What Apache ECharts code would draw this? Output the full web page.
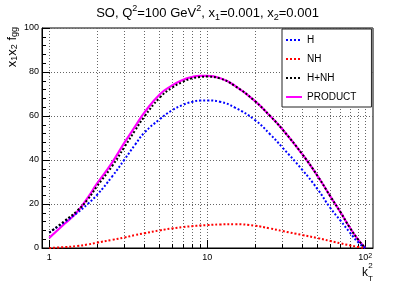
<!DOCTYPE html>
<html><head><meta charset="utf-8">
<script src="https://cdn.jsdelivr.net/npm/echarts@6/dist/echarts.min.js"></script>
<style>html,body{margin:0;padding:0;background:#fff}#c{width:415px;height:283px}</style>
</head><body><div id="c"></div>
<script>
// ---- data ----
const kT2 = [1, 1.25, 1.5, 1.75, 2, 2.5, 3, 3.5, 4, 5, 6, 7, 8, 9, 10, 12, 15, 20, 25, 30, 40, 50, 60, 70, 80, 90, 100];
const hVals = [7, 11.8, 15.9, 20, 24, 32.5, 40.3, 47, 52.4, 58.5, 62.6, 65, 66.4, 67, 67.1, 66.5, 63.8, 58.2, 51.7, 45.6, 35.5, 26.7, 18.3, 12.3, 7, 2.7, 0];
const nhVals = [0, 0.4, 0.9, 1.6, 2.4, 3.7, 4.8, 5.9, 6.7, 8.0, 8.9, 9.5, 9.9, 10.2, 10.4, 10.7, 10.8, 10.1, 8.9, 7.7, 5.9, 4.5, 3.2, 2.1, 1.2, 0.5, 0];
const hnhVals = [7, 12.3, 16.9, 22, 27.9, 37.2, 46, 53.5, 59.7, 68.3, 72.9, 75.5, 77.1, 77.7, 77.9, 77.1, 73.6, 66.8, 60, 53.8, 42.6, 32.7, 23.6, 16.1, 9.2, 3.9, 0];
const productVals = [4.6, 11, 16.4, 22.8, 29.1, 38.8, 48, 55.3, 61.5, 69.8, 73.9, 76.4, 77.7, 78.2, 78.2, 77.3, 73.7, 66.9, 60, 53.9, 42.6, 32.7, 23.6, 16.1, 9.2, 3.9, 0];
const seriesNames = ['H', 'NH', 'H+NH', 'PRODUCT'];
const xMajorTicks = [1, 10, 100];
const xMinorTicks = [2, 3, 4, 5, 6, 7, 8, 9, 20, 30, 40, 50, 60, 70, 80, 90];
const xTickLabels = {1: '1', 10: '10', 100: '10{sup|2}'};

const FONT = 'Liberation Sans';
const chart = echarts.init(document.getElementById('c'), null, {renderer: 'canvas'});
const pairs = vals => kT2.map((k, i) => [k, vals[i]]);
const gridLine = {show: true, lineStyle: {color: '#666', width: 1, type: [1, 2]}};

const option = {
  animation: false,
  backgroundColor: '#fff',
  title: {
    text: 'SO, Q{sup|2}=100 GeV{sup|2}, x{sub|1}=0.001, x{sub|2}=0.001',
    left: 'center', top: 4, padding: 0,
    textStyle: {
      fontFamily: FONT, fontSize: 13, fontWeight: 'normal', color: '#000', lineHeight: 18,
      rich: {
        sup: {fontFamily: FONT, fontSize: 9, verticalAlign: 'top', lineHeight: 9, color: '#000'},
        sub: {fontFamily: FONT, fontSize: 9, verticalAlign: 'bottom', lineHeight: 9, color: '#000'}
      }
    }
  },
  legend: {
    data: seriesNames,
    orient: 'vertical',
    left: 282, top: 29,
    padding: [6, 15, 5, 3],
    itemGap: 9, itemWidth: 16, itemHeight: 10,
    backgroundColor: '#fff', borderColor: '#222', borderWidth: 1, borderRadius: 0,
    textStyle: {fontFamily: FONT, fontSize: 10, color: '#000'},
    itemStyle: {opacity: 0},
    lineStyle: {width: 2, type: 'inherit', opacity: 1}
  },
  grid: {left: 42, right: 42, top: 28, bottom: 35, show: true, borderColor: '#000', borderWidth: 1, outerBoundsMode: 'none'},
  xAxis: [{
    type: 'log', logBase: 10, min: 0.9, max: 112, position: 'bottom',
    axisLine: {show: true, lineStyle: {color: '#000'}},
    axisTick: {show: true, inside: true, length: 8, customValues: xMajorTicks, lineStyle: {color: '#000'}},
    axisLabel: {
      show: true, customValues: xMajorTicks, margin: 5, color: '#000', fontFamily: FONT, fontSize: 9,
      formatter: v => xTickLabels[Math.round(v)] || '',
      rich: {sup: {fontFamily: FONT, fontSize: 7, verticalAlign: 'top', lineHeight: 7, color: '#000'}}
    },
    splitLine: gridLine,
    minorTick: {show: false}
  }, {
    type: 'log', logBase: 10, min: 0.9, max: 112, position: 'bottom',
    axisLine: {show: false},
    axisTick: {show: true, inside: true, length: 4, customValues: xMinorTicks, lineStyle: {color: '#000'}},
    axisLabel: {show: false},
    splitLine: gridLine
  }],
  yAxis: {
    type: 'value', min: 0, max: 100, interval: 20,
    axisLine: {show: true, lineStyle: {color: '#000'}},
    axisTick: {show: true, inside: true, length: 8, lineStyle: {color: '#000'}},
    minorTick: {show: true, splitNumber: 5, length: 4, lineStyle: {color: '#000'}},
    axisLabel: {margin: 3, color: '#000', fontFamily: FONT, fontSize: 9},
    splitLine: gridLine
  },
  graphic: [
    {
      type: 'text', x: 12, y: 27, rotation: Math.PI / 2,
      style: {
        text: 'x{s|1}x{s|2} f{s|gg}', fontFamily: FONT, fontSize: 13, fill: '#000',
        align: 'right', verticalAlign: 'middle', lineHeight: 15,
        rich: {s: {fontFamily: FONT, fontSize: 9, verticalAlign: 'bottom', lineHeight: 9, fill: '#000'}}
      }
    },
    {type: 'text', x: 368, y: 272.5, style: {text: 'k', fontFamily: FONT, fontSize: 12, fill: '#000', align: 'right', verticalAlign: 'middle'}},
    {type: 'text', x: 370.5, y: 266, style: {text: '2', fontFamily: FONT, fontSize: 8, fill: '#000', align: 'center', verticalAlign: 'middle'}},
    {type: 'text', x: 370.5, y: 279, style: {text: 'T', fontFamily: FONT, fontSize: 8, fill: '#000', align: 'center', verticalAlign: 'middle'}}
  ],
  series: [
    {name: 'PRODUCT', type: 'line', data: pairs(productVals), symbol: 'none', smooth: 0.5,
     lineStyle: {color: '#ff00ff', width: 2.2, type: 'solid'}, itemStyle: {color: '#ff00ff'}},
    {name: 'H', type: 'line', data: pairs(hVals), symbol: 'none', smooth: 0.5,
     lineStyle: {color: '#0000ff', width: 2, type: [2, 2]}, itemStyle: {color: '#0000ff'}},
    {name: 'NH', type: 'line', data: pairs(nhVals), symbol: 'none', smooth: 0.5,
     lineStyle: {color: '#ff0000', width: 2, type: [2, 2]}, itemStyle: {color: '#ff0000'}},
    {name: 'H+NH', type: 'line', data: pairs(hnhVals), symbol: 'none', smooth: 0.5,
     lineStyle: {color: '#000000', width: 2, type: [2, 2]}, itemStyle: {color: '#000000'}}
  ]
};
chart.setOption(option);
</script>
</body></html>
